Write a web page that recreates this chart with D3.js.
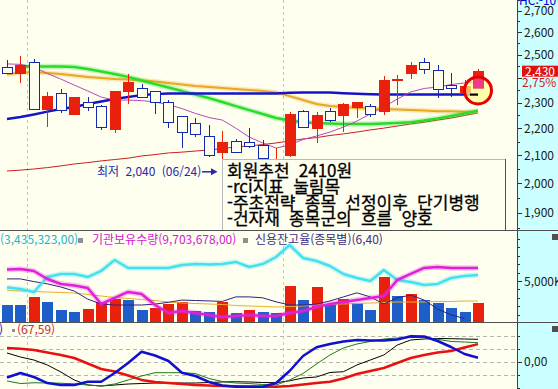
<!DOCTYPE html>
<html lang="ko">
<head>
<meta charset="UTF-8">
<title>일봉 차트</title>
<script src="https://d3js.org/d3.v7.min.js"></script>
<style>
  body { margin: 0; background: #fff; }
  svg { display: block; font-family: "Noto Sans CJK KR", "Noto Sans", sans-serif; }
</style>
</head>
<body>
<svg width="558" height="389"></svg>
<script>
// ---- data ----
const dates = ["05/29","05/30","06/02","06/03","06/05","06/09","06/10","06/11","06/12","06/13",
  "06/16","06/17","06/18","06/19","06/20","06/23","06/24","06/25","06/26","06/27","06/30",
  "07/01","07/02","07/03","07/04","07/07","07/08","07/09","07/10","07/11","07/14","07/15",
  "07/16","07/17","07/18","07/21"];
const open  = [2444,2422,2469,2273,2336,2254,2303,2287,2195,2344,2356,2344,2303,2244,2217,2171,2108,2152,2145,2137,2058,2097,2267,2198,2267,2248,2283,2287,2264,2391,2422,2465,2431,2372,2336,2360];
const high  = [2478,2493,2482,2344,2356,2323,2323,2291,2344,2418,2377,2348,2311,2248,2240,2213,2190,2160,2201,2156,2126,2264,2271,2264,2279,2299,2303,2295,2410,2414,2469,2486,2456,2422,2393,2440];
const low   = [2418,2381,2275,2205,2260,2254,2267,2195,2182,2295,2323,2256,2201,2126,2167,2093,2040,2108,2126,2064,2052,2093,2201,2145,2224,2186,2240,2244,2252,2291,2397,2418,2319,2323,2336,2360];
const close = [2422,2456,2275,2327,2269,2323,2283,2203,2344,2381,2323,2303,2224,2186,2175,2097,2145,2108,2130,2089,2078,2252,2205,2248,2232,2295,2303,2252,2389,2395,2456,2439,2352,2356,2365,2430];

// price moving averages
const maBlue   = [2236,2244,2254,2265,2275,2283,2295,2305,2315,2323,2331,2335,2338,2338,2338,2338,2338,2338,2338,2338,2338,2341,2342,2342,2342,2339,2337,2335,2333,2333,2333,2333,2333,2333,2333,2333];
const maGreen  = [null,2450,2450,2450,2450,2448,2439,2429,2418,2406,2391,2376,2362,2348,2333,2319,2303,2287,2271,2256,2240,2230,2224,2221,2219,2217,2217,2217,2219,2221,2224,2230,2238,2248,2258,2269];
const maOrange = [2416,2424,2427,2422,2418,2412,2406,2401,2397,2395,2391,2387,2381,2374,2368,2364,2360,2356,2352,2348,2342,2327,2311,2295,2287,2283,2279,2277,2275,2273,2271,2269,2267,2267,2265,2265];
const maPurple = [2461,2459,2448,2420,2397,2372,2348,2323,2311,2311,2309,2303,2293,2277,2258,2242,2232,2201,2167,2145,2126,2137,2158,2171,2186,2205,2228,2256,2283,2315,2344,2358,2364,2374,2381,2385];
const maRed    = [2043,2046,2050,2055,2061,2068,2073,2079,2084,2089,2097,2102,2108,2111,2115,2119,2124,2130,2134,2139,2145,2152,2160,2165,2173,2179,2186,2194,2201,2209,2217,2224,2232,2240,2250,2260];

// volume panel (thousand shares, ratio %)
const volume   = [2143,2140,3095,2500,1548,1310,1667,2500,2857,2738,1548,1786,2262,2500,1429,1369,2500,1190,1548,1310,1250,4405,2738,4286,2262,2857,2381,1548,5476,3214,3452,2738,2381,1786,1310,2381];
const volumeMA = [3869,3810,3750,3690,3631,3571,3393,3214,3036,2917,2798,2679,2500,2381,2321,2262,2202,2083,2024,1964,1905,1964,2024,2143,2202,2262,2321,2381,2440,2500,2500,2500,2560,2560,2619,2619];
const foreignHold = [3323,3309,3282,3418,3445,3445,3418,3473,3573,3500,3500,3500,3500,3527,3536,3532,3536,3555,3509,3536,3600,3709,3591,3564,3518,3445,3409,3382,3482,3391,3373,3345,3355,3409,3427,3435.323];
const instHold    = [9684,9691,9665,9563,9499,9480,9448,9243,9320,9397,9371,9230,9128,9153,9128,9102,9077,9090,9102,9090,9090,9128,9153,9205,9243,9269,9294,9320,9345,9550,9627,9704,9716,9704,9704,9703.678];
const creditRatio = [7.28,7.28,7.22,7.17,7.10,7.01,6.83,6.72,6.70,6.70,6.70,6.72,6.76,6.81,6.80,6.79,6.78,6.88,6.88,6.86,6.77,6.70,6.70,6.72,6.79,6.88,6.97,6.88,6.72,6.86,6.92,6.81,6.61,6.48,6.40,null];

// oscillator panel
const rciRed   = [52.7,50,45,35,25.8,14.2,-7,-28,-37.7,-53,-70,-78,-82,-86,-90,-91.5,-93.5,-94.6,-95.4,-96.2,-96.2,-93.5,-87.7,-82,-77,-64.6,-47.3,-35.8,-24.2,-5,14.2,25.8,35.4,41.2,54.6,67.59];
const rciBlue  = [-60.8,-43.5,-58.8,-82,-89.6,-89.6,-77,-77,-43.5,-5,38.5,23.8,2.7,-42.3,-55,-78,-91.5,-96.2,-96.2,-96.2,-82,-35.8,22,55.4,68,77.7,83.5,81.5,81.5,85.4,97.7,97,79.6,56.5,29.6,15.4];
const rciGreen = [-74,-84,-81,-82,-82.7,-85.8,-89.6,-93.5,-85.8,-70.4,-55,-42.3,-42.3,-42.3,-45.4,-64.6,-76.2,-82,-84,-87.7,-89.6,-70.4,-45.4,-8.8,25.8,52.7,68,77.7,87.3,91.2,93,93,86.2,77.7,75.8,73];
const rciBlack = [33.5,18,6.5,-12.7,-39.6,-70.4,-89.6,-93.5,-89.6,-85.8,-83.8,-82,-82,-82,-82,-80,-78,-77,-78,-80,-80.8,-73.5,-62.7,-58.8,-41.5,-38.5,-12.7,6.5,25.8,64,83.5,87.3,89.2,88.5,87.3,86.2];

const memo = ["회원추천 2410원", "-rci지표 눌림목", "-주초전략 종목 선정이후 단기병행", "-건자재 종목군의 흐름 양호"];
const priceTicks = d3.range(1850, 2751, 50);
const markPrice = 2350;

// ---- layout ----
const svg = d3.select("svg");
const W = 558, H = 389, axisX = 517;
const bg = "#fffff0";
const pMain = { top: 0, bottom: 230 }, pVol = { top: 231, bottom: 322 }, pOsc = { top: 323, bottom: 389 };

const x = d3.scaleLinear().domain([0, dates.length - 1]).range([7, 478]);
const yP = d3.scaleLog().domain([1900, 2600]).range([212.7, 32.3]);
const yV = d3.scaleLinear().domain([0, 10000]).range([323, 239]);
const yF = d3.scaleLinear().domain([3000, 3800]).range([323, 235]);
const yI = d3.scaleLinear().domain([9000, 10100]).range([323, 237]);
const yC = d3.scaleLinear().domain([6.3, 7.3]).range([323, 278]);
const yO = d3.scaleLinear().domain([-100, 100]).range([387.7, 335.7]);

const defs = svg.append("defs");
[["clipMain", pMain], ["clipVol", pVol], ["clipOsc", pOsc]].forEach(([id, p]) => {
  defs.append("clipPath").attr("id", id).append("rect")
    .attr("x", 0).attr("y", p.top).attr("width", axisX).attr("height", p.bottom - p.top);
});

svg.append("rect").attr("width", axisX).attr("height", H).attr("fill", bg);
svg.append("rect").attr("x", axisX).attr("width", W - axisX).attr("height", H).attr("fill", "#ccffff");

// month separators
const breaks = dates.map((d, i) => i).filter(i => i > 0 && dates[i].slice(0, 2) !== dates[i - 1].slice(0, 2));
svg.selectAll(".vsep").data(breaks).join("line")
  .attr("x1", i => Math.round((x(i - 1) + x(i)) / 2) + 0.5)
  .attr("x2", i => Math.round((x(i - 1) + x(i)) / 2) + 0.5)
  .attr("y1", 0).attr("y2", H)
  .attr("stroke", "#c4c4c4").attr("stroke-dasharray", "3,3");

// oscillator grid
svg.selectAll(".ogrid").data([100, 50, 0, -50]).join("line")
  .attr("x1", 0).attr("x2", axisX)
  .attr("y1", d => Math.round(yO(d)) + 0.5).attr("y2", d => Math.round(yO(d)) + 0.5)
  .attr("stroke", "#b4b4b4").attr("stroke-dasharray", "4,3");

function drawLine(g, data, scale, color, width, halo) {
  const gen = d3.line().defined(d => d != null).x((d, i) => x(i)).y(d => scale(d));
  if (halo) {
    g.append("path").attr("d", gen(data)).attr("fill", "none")
      .attr("stroke", color).attr("stroke-opacity", 0.25).attr("stroke-width", width + 3)
      .attr("stroke-linejoin", "round");
  }
  g.append("path").attr("d", gen(data)).attr("fill", "none")
    .attr("stroke", color).attr("stroke-width", width).attr("stroke-linejoin", "round");
}

// ---- main price panel ----
const gMain = svg.append("g").attr("clip-path", "url(#clipMain)");
drawLine(gMain, maRed, yP, "#c82020", 1);
drawLine(gMain, maOrange, yP, "#e8a820", 2, true);
drawLine(gMain, maGreen, yP, "#28dc28", 2.5, true);
drawLine(gMain, maBlue, yP, "#1414c8", 2.5);
drawLine(gMain, maPurple, yP, "#b848c0", 1);

const candles = dates.map((d, i) => ({ i, o: open[i], h: high[i], l: low[i], c: close[i] }));
const gC = gMain.append("g").attr("shape-rendering", "crispEdges");
const cg = gC.selectAll("g").data(candles).join("g");
const upCol = "#e8200c", dnCol = "#1428b0";
const bodyX = d => Math.round(x(d.i)) - 4.5;
const bodyY = d => yP(Math.max(d.o, d.c));
const bodyH = d => Math.max(1, yP(Math.min(d.o, d.c)) - yP(Math.max(d.o, d.c)));
cg.append("line")
  .attr("x1", d => Math.round(x(d.i)) + 0.5).attr("x2", d => Math.round(x(d.i)) + 0.5)
  .attr("y1", d => yP(d.h)).attr("y2", d => yP(d.l))
  .attr("stroke", d => d.c >= d.o ? upCol : dnCol);
cg.append("rect")
  .attr("x", bodyX).attr("y", bodyY).attr("width", 10).attr("height", bodyH)
  .attr("fill", d => d.c >= d.o ? upCol : bg)
  .attr("stroke", d => d.c >= d.o ? upCol : dnCol);

// last-candle marker
const last = dates.length - 1;
const mark = { cx: x(last), cy: yP(markPrice), r: 13.5 };
defs.append("clipPath").attr("id", "clipMark").append("circle")
  .attr("cx", mark.cx).attr("cy", mark.cy).attr("r", mark.r);
svg.append("circle")
  .attr("cx", mark.cx).attr("cy", mark.cy).attr("r", mark.r)
  .attr("fill", "#ffff8c").attr("fill-opacity", 0.7);
svg.append("g").attr("clip-path", "url(#clipMark)")
  .selectAll("rect").data([candles[last]]).join("rect")
  .attr("x", bodyX).attr("y", bodyY).attr("width", 10).attr("height", bodyH)
  .attr("fill", "#ec3c86").attr("stroke", "#ec3c86");
svg.append("circle")
  .attr("cx", mark.cx).attr("cy", mark.cy).attr("r", mark.r)
  .attr("fill", "none").attr("stroke", "#e60000").attr("stroke-width", 3);
svg.append("line")
  .attr("x1", x(last) - 8).attr("x2", x(last))
  .attr("y1", yP(maBlue[last])).attr("y2", yP(maBlue[last]))
  .attr("stroke", "#000").attr("stroke-width", 2);

// lowest price note
const lowIdx = d3.minIndex(low);
const noteY = yP(low[lowIdx]);
svg.append("text")
  .attr("x", 97).attr("y", noteY + 4.5)
  .attr("font-size", 12).attr("fill", "#2828a8").attr("word-spacing", 3)
  .text(`최저 ${d3.format(",")(low[lowIdx])} (${dates[lowIdx]})`);
svg.append("line")
  .attr("x1", 202).attr("x2", 212).attr("y1", noteY).attr("y2", noteY)
  .attr("stroke", "#2828a8").attr("stroke-width", 1.5);
svg.append("path")
  .attr("d", `M211,${noteY - 3.5}L217.5,${noteY}L211,${noteY + 3.5}Z`)
  .attr("fill", "#2828a8");

// memo box
const box = { x: 222, y: 159, w: 284, h: 71 };
svg.append("rect").attr("x", box.x).attr("y", box.y).attr("width", box.w).attr("height", box.h).attr("fill", bg);
svg.append("path").attr("d", `M${box.x + 0.5},${box.y + box.h}V${box.y + 0.5}H${box.x + box.w}`)
  .attr("fill", "none").attr("stroke", "#b8b8b8");
svg.append("line").attr("x1", box.x + box.w - 0.5).attr("x2", box.x + box.w - 0.5)
  .attr("y1", box.y).attr("y2", box.y + box.h).attr("stroke", "#505050");
svg.selectAll(".memo").data(memo).join("text")
  .attr("x", 227).attr("y", (d, i) => 177 + i * 16)
  .attr("font-size", 17).attr("fill", "#000").attr("word-spacing", 4.5)
  .attr("stroke", "#000").attr("stroke-width", 0.3)
  .text(d => d);

// ---- volume panel ----
const gVol = svg.append("g").attr("clip-path", "url(#clipVol)");
gVol.append("g").attr("shape-rendering", "crispEdges")
  .selectAll("rect").data(volume).join("rect")
  .attr("x", (d, i) => Math.round(x(i)) - 5)
  .attr("y", d => yV(d)).attr("width", 11).attr("height", d => yV(0) - yV(d))
  .attr("fill", (d, i) => i > 0 && d > volume[i - 1] ? "#e8200c" : "#1e5ec8");
drawLine(gVol, volumeMA, yV, "#e8b030", 1);
drawLine(gVol, creditRatio, yC, "#302080", 1);
drawLine(gVol, foreignHold, yF, "#44e0f0", 2.5, true);
drawLine(gVol, instHold, yI, "#e020d8", 2.5, true);

const fmtDec = v => d3.format(",.2f")(v).replace(/\.(\d\d)$/, ",$1");
const leg = svg.append("g").attr("font-size", 12);
leg.append("text").attr("x", 0).attr("y", 244).attr("fill", "#20b4d4")
  .text(`(${fmtDec(Math.round(foreignHold[last] * 1000))})`);
leg.append("rect").attr("x", 78).attr("y", 238).attr("width", 5).attr("height", 5).attr("fill", "#909090");
leg.append("text").attr("x", 92).attr("y", 244).attr("fill", "#d020d0")
  .text(`기관보유수량(${fmtDec(Math.round(instHold[last] * 1000))})`);
leg.append("rect").attr("x", 243).attr("y", 238).attr("width", 5).attr("height", 5).attr("fill", "#909090");
leg.append("text").attr("x", 255).attr("y", 244).attr("fill", "#3c2c8c")
  .text(`신용잔고율(종목별)(${fmtDec(creditRatio[last - 1])})`);

// ---- oscillator panel ----
const gOsc = svg.append("g").attr("clip-path", "url(#clipOsc)");
drawLine(gOsc, rciBlack, yO, "#000", 1);
drawLine(gOsc, rciGreen, yO, "#1e781e", 1);
drawLine(gOsc, rciRed, yO, "#e81010", 2.5);
drawLine(gOsc, rciBlue, yO, "#1010d0", 2.5);
leg.append("text").attr("x", -1).attr("y", 334).attr("fill", "#1010d0").text(")");
leg.append("rect").attr("x", 12).attr("y", 329).attr("width", 3).attr("height", 3).attr("fill", "#909090");
leg.append("text").attr("x", 17).attr("y", 334).attr("fill", "#c03030").text(`(${fmtDec(rciRed[last])})`);

// ---- right axis ----
const ax = svg.append("g").attr("font-size", 12).attr("fill", "#202020");
const tickLine = (y, len) => ax.append("line")
  .attr("x1", axisX).attr("x2", axisX + len)
  .attr("y1", Math.round(y) + 0.5).attr("y2", Math.round(y) + 0.5)
  .attr("stroke", "#303030");
const curY = yP(close[last]);
priceTicks.forEach(v => {
  const y = yP(v);
  if (y < pMain.top || y > pMain.bottom) return;
  const major = v % 100 === 0;
  tickLine(y, major ? 5 : 3);
  if (major && Math.abs(y - curY) > 9) {
    ax.append("text").attr("x", 524).attr("y", y + 4.5).text(d3.format(",")(v));
  }
});
d3.range(1000, 10001, 1000).forEach(v => {
  tickLine(yV(v), v === 5000 ? 5 : 3);
});
ax.append("text").attr("x", 524).attr("y", yV(5000) + 4.5).text(d3.format(",")(5000) + "K");
[100, 50, 0, -50, -100].forEach(v => tickLine(yO(v), v === 0 ? 5 : 3));
ax.append("text").attr("x", 524).attr("y", yO(0) + 4.5).text(fmtDec(0));

// current price tag
const chg = (close[last] - close[last - 1]) / close[last - 1] * 100;
svg.append("rect").attr("x", 522).attr("y", curY - 5.5).attr("width", 36).attr("height", 11).attr("fill", "#e01010");
svg.append("text").attr("x", 525).attr("y", curY + 4.5).attr("font-size", 12).attr("fill", "#fff")
  .text(d3.format(",")(close[last]));
svg.append("text").attr("x", 522).attr("y", curY + 16).attr("font-size", 12).attr("fill", "#d02020")
  .text(d3.format(".2f")(chg).replace(".", ",") + "%");
svg.append("text").attr("x", 519).attr("y", 5).attr("font-size", 12).attr("fill", "#0000c8").text("HC:-10");

// axis line, panel separators, close buttons
svg.append("line").attr("x1", axisX + 0.5).attr("x2", axisX + 0.5).attr("y1", 0).attr("y2", H).attr("stroke", "#404040");
[pMain.bottom, pVol.bottom].forEach(y => {
  svg.append("line").attr("x1", 0).attr("x2", W).attr("y1", y + 0.5).attr("y2", y + 0.5).attr("stroke", "#505050");
});
[pVol.top + 3, pOsc.top + 3].forEach(y => {
  svg.append("rect").attr("x", 552).attr("y", y).attr("width", 6).attr("height", 6).attr("fill", "#505050");
});
</script>
</body>
</html>
